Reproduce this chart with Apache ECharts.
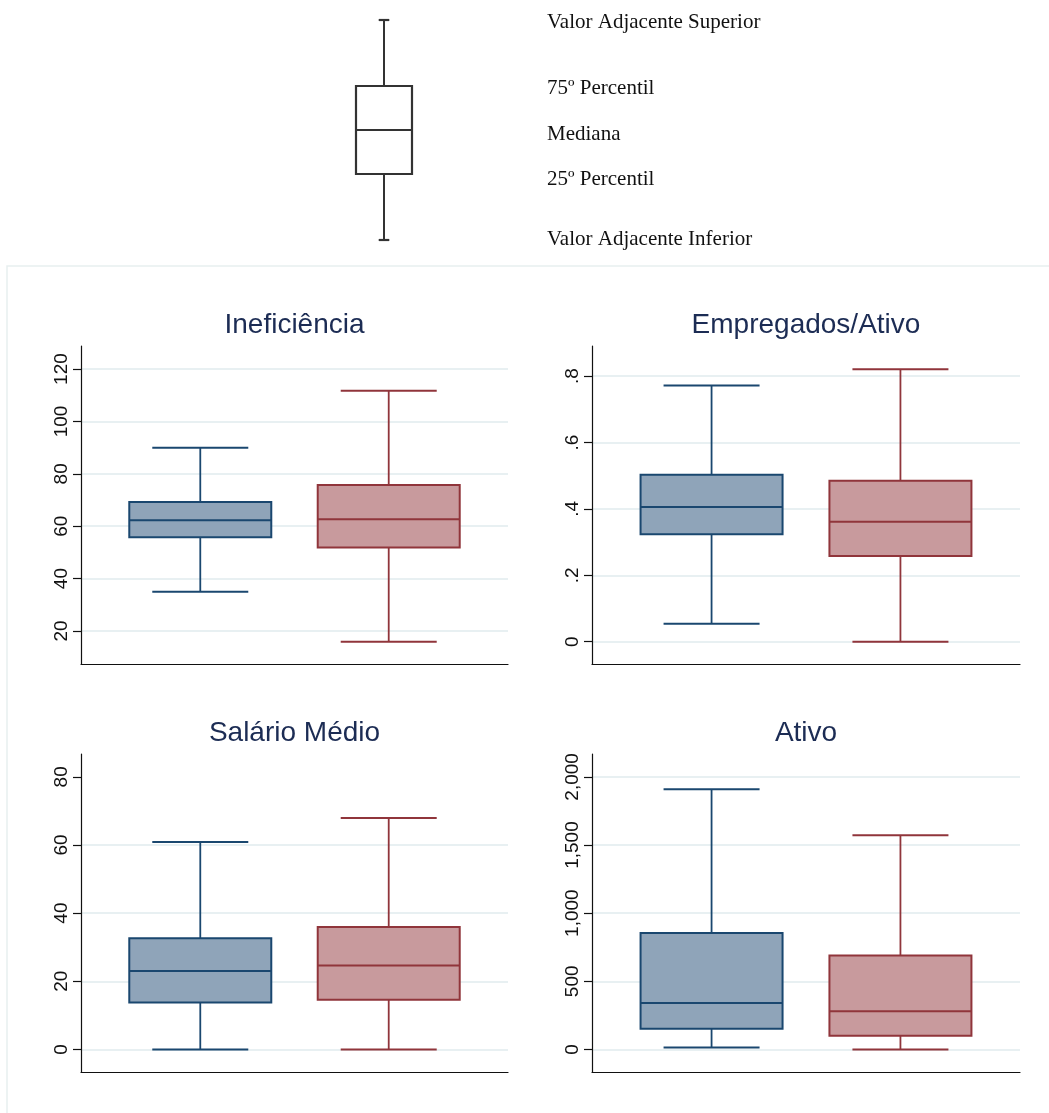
<!DOCTYPE html>
<html>
<head>
<meta charset="utf-8">
<script src="https://cdn.jsdelivr.net/npm/echarts@6/dist/echarts.min.js"></script>
<style>
html,body{margin:0;padding:0;background:#fff;}
#chart{width:1049px;height:1113px;}
</style>
</head>
<body>
<div id="chart"></div>
<script>
// ---------- data ----------
// each row: [lower adjacent, p25, median, p75, upper adjacent]
const panelTitles = ['Ineficiência', 'Empregados/Ativo', 'Salário Médio', 'Ativo'];
const ineficiencia    = [[35.0, 55.8, 62.3, 69.2, 90.0], [15.9, 51.9, 62.7, 75.7, 111.7]];
const empregadosAtivo = [[0.054, 0.324, 0.406, 0.503, 0.772], [0.0, 0.258, 0.361, 0.485, 0.821]];
const salarioMedio    = [[0, 13.8, 23.0, 32.6, 60.9], [0, 14.6, 24.6, 35.9, 67.9]];
const ativo           = [[15, 152, 340, 855, 1909], [0, 100, 281, 689, 1572]];

const ticksIneficiencia = [20, 40, 60, 80, 100, 120];
const ticksEmpregados   = [0, 0.2, 0.4, 0.6, 0.8];
const ticksSalario      = [0, 20, 40, 60, 80];
const ticksAtivo        = [0, 500, 1000, 1500, 2000];

const labelsEmpregados = ['0', '.2', '.4', '.6', '.8'];
const labelsAtivo      = ['0', '500', '1,000', '1,500', '2,000'];

// legend schematic (illustrative positions)
const legendValues = [0, 66, 110, 154, 220];
const legendLabels = ['Valor Adjacente Inferior', '25º Percentil', 'Mediana', '75º Percentil', 'Valor Adjacente Superior'];

// ---------- styles ----------
const strokeColors = ['#1a476f', '#90353b'];
const fillColors   = ['#8fa4b9', '#c89a9d'];
const gridColor = '#e8f0f2';
const axisColor = '#111';

const chart = echarts.init(document.getElementById('chart'), null, {renderer: 'canvas'});

function boxRender(boxW, capW, strokes, fills, lw, wlw) {
  return function (params, api) {
    const x = api.value(0);
    const lo = api.coord([x, api.value(1)]);
    const q1 = api.coord([x, api.value(2)]);
    const md = api.coord([x, api.value(3)]);
    const q3 = api.coord([x, api.value(4)]);
    const hi = api.coord([x, api.value(5)]);
    const i = params.dataIndex % strokes.length;
    const cx = lo[0];
    const st = strokes[i], fl = fills[i];
    return {
      type: 'group',
      children: [
        {type: 'line', shape: {x1: cx, y1: q3[1], x2: cx, y2: hi[1]}, style: {stroke: st, lineWidth: wlw}},
        {type: 'line', shape: {x1: cx, y1: q1[1], x2: cx, y2: lo[1]}, style: {stroke: st, lineWidth: wlw}},
        {type: 'line', shape: {x1: cx - capW / 2, y1: hi[1], x2: cx + capW / 2, y2: hi[1]}, style: {stroke: st, lineWidth: lw}},
        {type: 'line', shape: {x1: cx - capW / 2, y1: lo[1], x2: cx + capW / 2, y2: lo[1]}, style: {stroke: st, lineWidth: lw}},
        {type: 'rect', shape: {x: cx - boxW / 2, y: q3[1], width: boxW, height: q1[1] - q3[1]}, style: {fill: fl, stroke: st, lineWidth: lw}},
        {type: 'line', shape: {x1: cx - boxW / 2, y1: md[1], x2: cx + boxW / 2, y2: md[1]}, style: {stroke: st, lineWidth: lw}}
      ]
    };
  };
}

const panelData = [ineficiencia, empregadosAtivo, salarioMedio, ativo];
const panelTicks = [ticksIneficiencia, ticksEmpregados, ticksSalario, ticksAtivo];
const panelTickLabels = [null, labelsEmpregados, null, labelsAtivo];
const panelRanges = [[7.4, 128.8], [-0.0672, 0.8907], [-6.63, 86.7], [-165.7, 2168]];
const panelGrids = [
  {left: 81, top: 346, width: 427, height: 318},
  {left: 592, top: 346, width: 428, height: 318},
  {left: 81, top: 754, width: 427, height: 318},
  {left: 592, top: 754, width: 428, height: 318}
];
const titleCenters = [[294.5, 325], [806, 325], [294.5, 733], [806, 733]];

const grids = [{left: 284, top: 20, width: 200, height: 220}].concat(panelGrids);
const xAxes = [{gridIndex: 0, type: 'value', min: -1, max: 1, show: false}];
const yAxes = [{gridIndex: 0, type: 'value', min: 0, max: 220, show: false}];
const series = [];

// legend schematic
series.push({
  type: 'custom',
  xAxisIndex: 0, yAxisIndex: 0,
  data: [[0].concat(legendValues)],
  encode: {x: 0, y: [1, 2, 3, 4, 5]},
  renderItem: function (params, api) {
    const base = boxRender(56, 10.6, ['#333333'], ['#ffffff'], 2.2, 2)(params, api);
    const offs = [-1, 5, 4, 2, 2];
    legendLabels.forEach(function (t, k) {
      const p = api.coord([0, legendValues[k]]);
      base.children.push({
        type: 'text',
        style: {text: t, x: p[0] + 163, y: p[1] + offs[k], fill: '#111', font: '21px "Liberation Serif", "Times New Roman", serif', textVerticalAlign: 'middle', textAlign: 'left'}
      });
    });
    return base;
  },
  silent: true
});

panelData.forEach(function (rows, k) {
  const gi = k + 1;
  const ticks = panelTicks[k];
  const labs = panelTickLabels[k];
  const splitColors = ticks.map(function (v, j) {
    return (k === 2 && j === ticks.length - 1) ? 'rgba(0,0,0,0)' : gridColor;
  });
  xAxes.push({
    gridIndex: gi, type: 'value', min: -0.633, max: 1.633,
    axisLine: {show: true, onZero: false, lineStyle: {color: axisColor, width: 1.2}},
    axisTick: {show: false}, axisLabel: {show: false}, splitLine: {show: false}
  });
  yAxes.push({
    gridIndex: gi, type: 'value', min: panelRanges[k][0], max: panelRanges[k][1],
    axisLine: {show: true, onZero: false, lineStyle: {color: axisColor, width: 1.2}},
    axisTick: {show: true, inside: false, length: 8, customValues: ticks, lineStyle: {color: axisColor, width: 1.2}},
    axisLabel: {
      show: true, rotate: 90, margin: 10, customValues: ticks,
      fontFamily: '"Liberation Sans", Arial, sans-serif', fontSize: 19, color: '#111',
      formatter: function (v) {
        const j = ticks.findIndex(function (t) { return Math.abs(t - v) < 1e-9; });
        if (labs && j >= 0) return labs[j];
        return String(v);
      }
    },
    splitLine: {show: true, lineStyle: {color: splitColors, width: 1.8}}
  });
  series.push({
    type: 'custom',
    xAxisIndex: gi, yAxisIndex: gi,
    data: rows.map(function (r, i) { return [i].concat(r); }),
    encode: {x: 0, y: [1, 2, 3, 4, 5]},
    renderItem: boxRender(142, 96, strokeColors, fillColors, 2, 1.8),
    silent: true
  });
});

const titles = panelTitles.map(function (t, k) {
  return {
    text: t, left: titleCenters[k][0], top: titleCenters[k][1] - 14, textAlign: 'center', padding: 0,
    textStyle: {fontFamily: '"Liberation Sans", Arial, sans-serif', fontSize: 28, fontWeight: 'normal', color: '#1c2c54'}
  };
});

chart.setOption({
  animation: false,
  backgroundColor: '#ffffff',
  title: titles,
  grid: grids,
  xAxis: xAxes,
  yAxis: yAxes,
  series: series,
  graphic: [{
    type: 'rect', silent: true, z: -10,
    shape: {x: 7, y: 266, width: 1100, height: 900},
    style: {fill: 'none', stroke: '#e8eff0', lineWidth: 1.5}
  }]
});
</script>
</body>
</html>
